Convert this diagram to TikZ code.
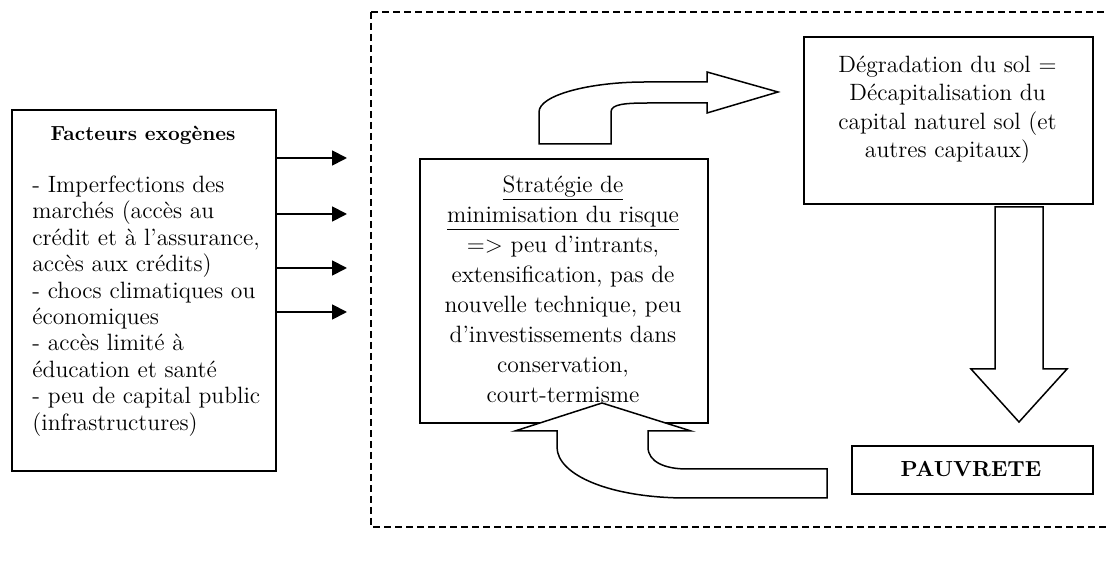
\documentclass[tikz,border=0pt]{standalone}
\usetikzlibrary{arrows.meta}
\begin{document}
\begin{tikzpicture}[x=0.5pt,y=-0.5pt,
  box/.style={draw, line width=0.9pt, inner sep=0pt, anchor=north west},
  txt/.style={inner sep=0pt, font=\fontsize{11.8pt}{13.2pt}\selectfont},
  blockarrow/.style={draw, fill=white, line width=0.75pt, line join=miter},
  dashbox/.style={line width=0.7pt, dash pattern=on 3.5pt off 2pt},
  smallarrow/.style={line width=0.9pt, -{Triangle[length=7.5pt,width=7.5pt]}}]
\useasboundingbox (0,0) rectangle (1107,565);

% dashed frame (right side lies outside the picture)
\draw[dashbox] (371,12) -- (1110,12);
\draw[dashbox] (371,12) -- (371,527) -- (1110,527);

% boxes
\node[box, minimum width=132pt, minimum height=180.5pt] (fact) at (11,109) {};
\node[box, minimum width=144pt, minimum height=132pt] (strat) at (419,158) {};
\node[box, minimum width=144.5pt, minimum height=83.5pt] (degr) at (803,36) {};
\node[box, minimum width=120.5pt, minimum height=24pt] (pauv) at (851,445) {};

% texts
\node[txt, font=\fontsize{10.2pt}{12pt}\bfseries] (facttitle) at (143,135) {Facteurs exogènes};
\node[txt, align=left, anchor=west] (factlist) at (32,306) {- Imperfections des\\ marchés (accès au\\ crédit et à l'assurance,\\ accès aux crédits)\\ - chocs climatiques ou\\ économiques\\ - accès limité à\\ éducation et santé\\ - peu de capital public\\ (infrastructures)};
\node[txt, align=center, font=\fontsize{11.8pt}{15pt}\selectfont] (strattext) at (563,289) {\underline{Stratégie de}\\ \underline{minimisation du risque}\\ => peu d'intrants,\\ extensification, pas de\\ nouvelle technique, peu\\ d'investissements dans\\ conservation,\\ court-termisme};
\node[txt, align=center, font=\fontsize{11.8pt}{14.25pt}\selectfont] (degrtext) at (947.5,109.5) {Dégradation du sol =\\ Décapitalisation du\\ capital naturel sol (et\\ autres capitaux)};
\node[txt, font=\fontsize{10.9pt}{13pt}\bfseries] (pauvtext) at (971,469) {PAUVRETE};

% small arrows from the exogenous factors
\coordinate (t1) at (347,158);
\coordinate (t2) at (347,214);
\coordinate (t3) at (347,268);
\coordinate (t4) at (347,312);
\draw[smallarrow] (fact.east |- t1) -- (t1);
\draw[smallarrow] (fact.east |- t2) -- (t2);
\draw[smallarrow] (fact.east |- t3) -- (t3);
\draw[smallarrow] (fact.east |- t4) -- (t4);

% curved block arrow: strategy -> degradation
\draw[blockarrow] (539,144) -- (539,112) .. controls (539,95) and (590,82) .. (645,82)
  -- (707,82) -- (707,72) -- (778,92) -- (707,113) -- (707,103) -- (650,103)
  .. controls (625,103) and (611,104) .. (611,112) -- (611,144) -- cycle;

% straight block arrow: degradation -> pauvrete
\draw[blockarrow] (995,207) -- (1043,207) -- (1043,369) -- (1067,369) -- (1019,422)
  -- (971,369) -- (995,369) -- cycle;

% curved block arrow: pauvrete -> strategy
\draw[blockarrow] (602,403) -- (691,431) -- (648,431) -- (648,447)
  .. controls (648,462) and (665,469) .. (687,469) -- (827,469) -- (827,498) -- (687,498)
  .. controls (610,498) and (557,475) .. (557,447) -- (557,431) -- (515,431) -- cycle;
\end{tikzpicture}
\end{document}
